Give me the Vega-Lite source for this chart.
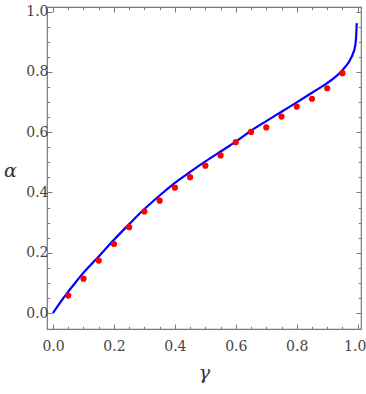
{
  "$schema": "https://vega.github.io/schema/vega-lite/v6.json",
  "autosize": "none",
  "padding": {"left": 47, "top": 7, "right": 5, "bottom": 65},
  "width": 314,
  "height": 322,
  "background": "white",
  "config": {
    "view": {"stroke": "#7a7a7a", "strokeWidth": 1.2},
    "axis": {
      "domain": false,
      "grid": false,
      "tickColor": "#7a7a7a",
      "tickWidth": 1,
      "labelFont": "DejaVu Serif",
      "labelFontSize": 14,
      "labelColor": "#444444",
      "titleFont": "DejaVu Serif",
      "titleFontStyle": "italic",
      "titleFontWeight": "normal",
      "titleFontSize": 19,
      "titleColor": "#333333"
    }
  },
  "datasets": {
    "curve": [
      {"gamma": 0, "alpha": 0},
      {"gamma": 0.025, "alpha": 0.037},
      {"gamma": 0.05, "alpha": 0.071},
      {"gamma": 0.075, "alpha": 0.103},
      {"gamma": 0.1, "alpha": 0.134},
      {"gamma": 0.15, "alpha": 0.188},
      {"gamma": 0.2, "alpha": 0.243},
      {"gamma": 0.25, "alpha": 0.295},
      {"gamma": 0.3, "alpha": 0.345},
      {"gamma": 0.35, "alpha": 0.39},
      {"gamma": 0.4, "alpha": 0.432},
      {"gamma": 0.45, "alpha": 0.468},
      {"gamma": 0.5, "alpha": 0.503},
      {"gamma": 0.55, "alpha": 0.536},
      {"gamma": 0.6, "alpha": 0.569},
      {"gamma": 0.65, "alpha": 0.605},
      {"gamma": 0.7, "alpha": 0.637},
      {"gamma": 0.75, "alpha": 0.668},
      {"gamma": 0.8, "alpha": 0.699},
      {"gamma": 0.85, "alpha": 0.731},
      {"gamma": 0.9, "alpha": 0.763},
      {"gamma": 0.925, "alpha": 0.782},
      {"gamma": 0.95, "alpha": 0.806},
      {"gamma": 0.965, "alpha": 0.824},
      {"gamma": 0.975, "alpha": 0.84},
      {"gamma": 0.985, "alpha": 0.862},
      {"gamma": 0.99, "alpha": 0.878},
      {"gamma": 0.993, "alpha": 0.896},
      {"gamma": 0.995, "alpha": 0.918},
      {"gamma": 0.996, "alpha": 0.94},
      {"gamma": 0.997, "alpha": 0.962}
    ],
    "dots": [
      {"gamma": 0.05, "alpha": 0.058},
      {"gamma": 0.1, "alpha": 0.114},
      {"gamma": 0.15, "alpha": 0.174},
      {"gamma": 0.2, "alpha": 0.229},
      {"gamma": 0.25, "alpha": 0.285},
      {"gamma": 0.3, "alpha": 0.337},
      {"gamma": 0.35, "alpha": 0.373},
      {"gamma": 0.4, "alpha": 0.416},
      {"gamma": 0.45, "alpha": 0.451},
      {"gamma": 0.5, "alpha": 0.489},
      {"gamma": 0.55, "alpha": 0.523},
      {"gamma": 0.6, "alpha": 0.567},
      {"gamma": 0.65, "alpha": 0.601},
      {"gamma": 0.7, "alpha": 0.616},
      {"gamma": 0.75, "alpha": 0.652},
      {"gamma": 0.8, "alpha": 0.685},
      {"gamma": 0.85, "alpha": 0.711},
      {"gamma": 0.9, "alpha": 0.746},
      {"gamma": 0.95, "alpha": 0.796}
    ]
  },
  "resolve": {"axis": {"x": "independent", "y": "independent"}},
  "layer": [
    {
      "data": {"name": "curve"},
      "mark": {"type": "line", "color": "#0000ff", "strokeWidth": 2.2, "interpolate": "monotone"},
      "encoding": {
        "x": {"field": "gamma", "type": "quantitative",
          "scale": {"domain": [-0.0198, 1.0109], "nice": false, "zero": false},
          "axis": {"orient": "bottom", "values": [0, 0.2, 0.4, 0.6, 0.8, 1], "format": ".1f", "tickSize": -5, "labelPadding": 15,
            "labelOffset": {"condition": {"test": "datum.value === 1", "value": -3}, "value": 0},
            "title": "γ", "titlePadding": 10}},
        "y": {"field": "alpha", "type": "quantitative",
          "scale": {"domain": [-0.053, 1.0156], "nice": false, "zero": false},
          "axis": {"orient": "left", "values": [0, 0.2, 0.4, 0.6, 0.8, 1], "format": ".1f", "tickSize": -5, "labelPadding": 4, "title": "α", "titleAngle": 0, "titleAlign": "center", "titleBaseline": "middle", "titleX": -37, "titleY": 163}}
      }
    },
    {
      "data": {"name": "dots"},
      "mark": {"type": "circle", "color": "#ff0000", "opacity": 1, "size": 38},
      "encoding": {
        "x": {"field": "gamma", "type": "quantitative",
          "axis": {"orient": "bottom", "values": [0.05, 0.1, 0.15, 0.25, 0.3, 0.35, 0.45, 0.5, 0.55, 0.65, 0.7, 0.75, 0.85, 0.9, 0.95], "tickSize": -2.7, "labels": false, "title": null}},
        "y": {"field": "alpha", "type": "quantitative",
          "axis": {"orient": "left", "values": [0.05, 0.1, 0.15, 0.25, 0.3, 0.35, 0.45, 0.5, 0.55, 0.65, 0.7, 0.75, 0.85, 0.9, 0.95], "tickSize": -2.7, "labels": false, "title": null}}
      }
    },
    {
      "data": {"name": "curve"},
      "mark": {"type": "line", "strokeOpacity": 0},
      "encoding": {
        "x": {"field": "gamma", "type": "quantitative",
          "axis": {"orient": "top", "values": [0, 0.2, 0.4, 0.6, 0.8, 1], "tickSize": -5, "labels": false, "title": null}},
        "y": {"field": "alpha", "type": "quantitative",
          "axis": {"orient": "right", "values": [0, 0.2, 0.4, 0.6, 0.8, 1], "tickSize": -5, "labels": false, "title": null}}
      }
    },
    {
      "data": {"name": "dots"},
      "mark": {"type": "circle", "opacity": 0},
      "encoding": {
        "x": {"field": "gamma", "type": "quantitative",
          "axis": {"orient": "top", "values": [0.05, 0.1, 0.15, 0.25, 0.3, 0.35, 0.45, 0.5, 0.55, 0.65, 0.7, 0.75, 0.85, 0.9, 0.95], "tickSize": -2.7, "labels": false, "title": null}},
        "y": {"field": "alpha", "type": "quantitative",
          "axis": {"orient": "right", "values": [0.05, 0.1, 0.15, 0.25, 0.3, 0.35, 0.45, 0.5, 0.55, 0.65, 0.7, 0.75, 0.85, 0.9, 0.95], "tickSize": -2.7, "labels": false, "title": null}}
      }
    }
  ]
}
